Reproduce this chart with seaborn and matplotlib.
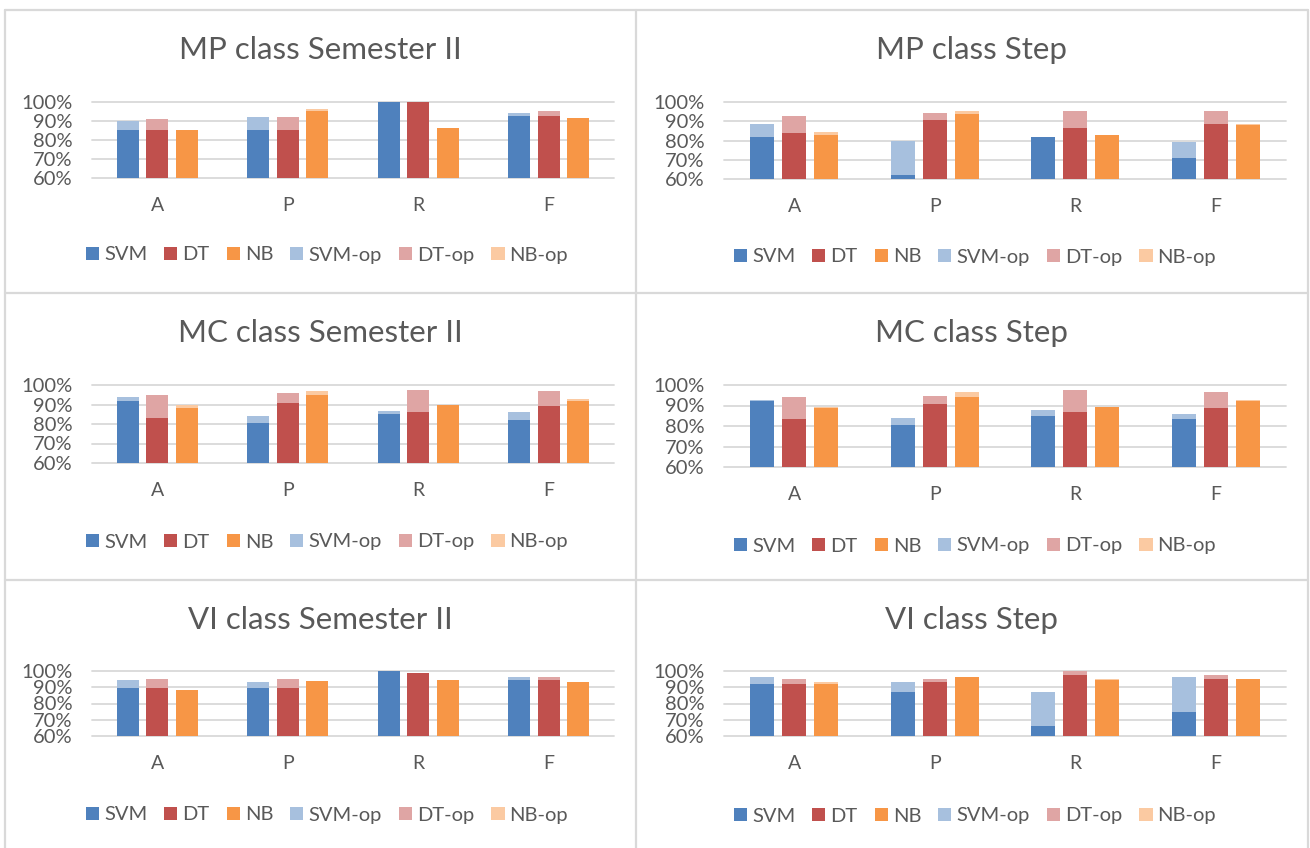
import matplotlib
matplotlib.use("Agg")
import matplotlib.pyplot as plt
from matplotlib.lines import Line2D
from matplotlib.patches import Patch
import pandas as pd
import seaborn as sns

# ---- data -------------------------------------------------------------
metrics = ["A", "P", "R", "F"]
models = ["SVM", "DT", "NB"]
op_models = ["SVM-op", "DT-op", "NB-op"]

mp_sem = {
    "SVM": [0.855, 0.855, 1.000, 0.925],
    "DT": [0.855, 0.855, 1.000, 0.925],
    "NB": [0.855, 0.955, 0.865, 0.915],
    "SVM-op": [0.902, 0.922, 1.000, 0.943],
    "DT-op": [0.912, 0.922, 1.000, 0.954],
    "NB-op": [0.855, 0.961, 0.865, 0.915],
}
mp_step = {
    "SVM": [0.817, 0.623, 0.817, 0.711],
    "DT": [0.838, 0.904, 0.866, 0.887],
    "NB": [0.830, 0.937, 0.828, 0.878],
    "SVM-op": [0.887, 0.798, 0.817, 0.790],
    "DT-op": [0.925, 0.944, 0.955, 0.955],
    "NB-op": [0.845, 0.955, 0.828, 0.885],
}
mc_sem = {
    "SVM": [0.919, 0.804, 0.852, 0.823],
    "DT": [0.832, 0.909, 0.861, 0.890],
    "NB": [0.881, 0.948, 0.900, 0.919],
    "SVM-op": [0.936, 0.840, 0.869, 0.859],
    "DT-op": [0.947, 0.957, 0.976, 0.967],
    "NB-op": [0.900, 0.967, 0.900, 0.926],
}
mc_step = {
    "SVM": [0.924, 0.805, 0.850, 0.832],
    "DT": [0.832, 0.905, 0.868, 0.887],
    "NB": [0.889, 0.940, 0.895, 0.923],
    "SVM-op": [0.929, 0.839, 0.876, 0.858],
    "DT-op": [0.940, 0.948, 0.976, 0.966],
    "NB-op": [0.895, 0.966, 0.895, 0.929],
}
vi_sem = {
    "SVM": [0.898, 0.898, 0.998, 0.945],
    "DT": [0.898, 0.898, 0.990, 0.945],
    "NB": [0.886, 0.940, 0.945, 0.933],
    "SVM-op": [0.945, 0.933, 0.998, 0.965],
    "DT-op": [0.953, 0.953, 0.990, 0.965],
    "NB-op": [0.886, 0.940, 0.945, 0.933],
}
vi_step = {
    "SVM": [0.920, 0.873, 0.659, 0.747],
    "DT": [0.920, 0.930, 0.978, 0.953],
    "NB": [0.920, 0.965, 0.945, 0.953],
    "SVM-op": [0.965, 0.930, 0.873, 0.965],
    "DT-op": [0.953, 0.953, 1.000, 0.978],
    "NB-op": [0.930, 0.965, 0.953, 0.953],
}

titles = ["MP class Semester II", "MP class Step",
          "MC class Semester II", "MC class Step",
          "VI class Semester II", "VI class Step"]
panels = [mp_sem, mp_step, mc_sem, mc_step, vi_sem, vi_step]

y_ticks = [0.6, 0.7, 0.8, 0.9, 1.0]
y_tick_labels = ["60%", "70%", "80%", "90%", "100%"]

colors = {"SVM": "#4F81BD", "DT": "#C0504D", "NB": "#F79646",
          "SVM-op": "#A7C0DE", "DT-op": "#DFA5A4", "NB-op": "#FBCAA2"}

# ---- layout (pixel boxes on a 1310 x 848 canvas) ---------------------
W, H = 1310, 848
# (left, right, top, bottom) of each plot area
plot_boxes = [(92, 614, 102, 178), (724, 1286, 102, 179),
              (92, 614, 385, 463), (724, 1286, 385, 467),
              (92, 614, 671, 736), (724, 1286, 671, 736)]
title_pos = [(320, 50), (971, 50), (320, 333), (971, 333),
             (320, 620), (971, 620)]
legend_pos = [(327, 255), (975, 257), (327, 542), (975, 546),
              (327, 815), (975, 816)]

sns.set_theme(style="white")
plt.rcParams["font.family"] = ["Lato", "DejaVu Sans"]
text_color = "#595959"
grid_color = "#D9D9D9"

fig = plt.figure(figsize=(W / 100, H / 100), dpi=100)
fig.patch.set_facecolor("white")


def long_table(panel, names):
    rows = []
    for name in names:
        for m, v in zip(metrics, panel[name]):
            rows.append({"metric": m, "model": name, "value": v})
    return pd.DataFrame(rows)


for panel, title, box, tpos, lpos in zip(panels, titles, plot_boxes,
                                         title_pos, legend_pos):
    l, r, t, b = box
    ax = fig.add_axes([l / W, 1 - b / H, (r - l) / W, (b - t) / H])

    common = dict(x="metric", y="value", hue="model", order=metrics,
                  width=0.68, gap=0.25, errorbar=None, saturation=1,
                  legend=False, linewidth=0, ax=ax)
    # optimised results sit behind the baseline bars
    sns.barplot(data=long_table(panel, op_models), hue_order=op_models,
                palette=[colors[n] for n in op_models], **common)
    sns.barplot(data=long_table(panel, models), hue_order=models,
                palette=[colors[n] for n in models], **common)

    ax.set_ylim(0.6, 1.0)
    ax.set_xlim(-0.5, 3.5)
    ax.set_yticks(y_ticks)
    ax.set_yticklabels(y_tick_labels)
    ax.set_xlabel("")
    ax.set_ylabel("")
    ax.set_axisbelow(True)
    ax.yaxis.grid(True, color=grid_color, linewidth=1.3)
    for gl in ax.get_ygridlines():
        gl.set_clip_on(False)
    for s in ax.spines.values():
        s.set_visible(False)
    ax.tick_params(axis="y", length=0, pad=14, labelsize=14.5,
                   labelcolor=text_color)
    ax.tick_params(axis="x", length=0, pad=14, labelsize=14,
                   labelcolor=text_color)
    ax.set_facecolor("none")

    fig.text(tpos[0] / W, 1 - tpos[1] / H, title, ha="center", va="center",
             fontsize=22.5, color=text_color)

    handles = [Patch(facecolor=colors[n], edgecolor="none")
               for n in models + op_models]
    fig.legend(handles, models + op_models, loc="center",
               bbox_to_anchor=(lpos[0] / W, 1 - lpos[1] / H), ncol=6,
               frameon=False, fontsize=14.5, labelcolor=text_color,
               handlelength=0.65, handleheight=0.65, handletextpad=0.25,
               columnspacing=0.85)

# panel borders
border_lines = [
    ((5, 5), (10, H)), ((636, 636), (10, H)), ((1308, 1308), (10, H)),
    ((5, 1308), (10, 10)), ((5, 1308), (293, 293)), ((5, 1308), (580, 580)),
]
for xs, ys in border_lines:
    fig.add_artist(Line2D([x / W for x in xs], [1 - y / H for y in ys],
                          transform=fig.transFigure, color="#D9D9D9",
                          linewidth=1.6))

fig.savefig("out.png", dpi=100, facecolor="white")
